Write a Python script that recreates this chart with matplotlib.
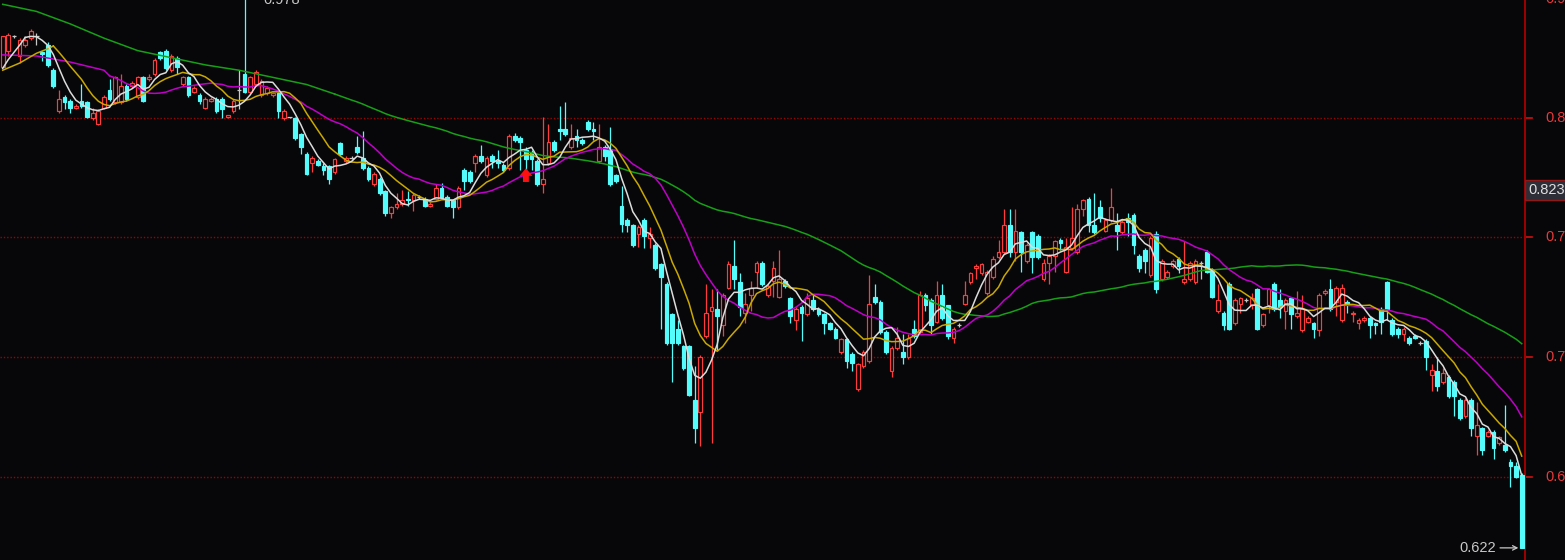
import numpy as np
import pandas as pd
import matplotlib
matplotlib.use("Agg")
import matplotlib.pyplot as plt
from matplotlib.patches import FancyArrow
from matplotlib.transforms import blended_transform_factory

# daily candles (price in yuan), oldest first
opens = [
    0.892, 0.901, 0.909, 0.898, 0.904, 0.908, 0.909, 0.900, 0.904, 0.890,
    0.867, 0.875, 0.873, 0.869, 0.873, 0.872, 0.863, 0.860, 0.869, 0.879,
    0.872, 0.872, 0.881, 0.881, 0.875, 0.886, 0.885, 0.888, 0.900, 0.901,
    0.890, 0.897, 0.882, 0.886, 0.878, 0.876, 0.869, 0.873, 0.874, 0.874,
    0.864, 0.867, 0.879, 0.888, 0.878, 0.882, 0.876, 0.877, 0.876, 0.877,
    0.863, 0.864, 0.863, 0.854, 0.843, 0.838, 0.839, 0.836, 0.836, 0.833,
    0.849, 0.839, 0.841, 0.847, 0.841, 0.835, 0.826, 0.829, 0.822, 0.810,
    0.813, 0.815, 0.818, 0.817, 0.819, 0.818, 0.814, 0.818, 0.824, 0.819,
    0.817, 0.813, 0.834, 0.833, 0.838, 0.842, 0.831, 0.842, 0.839, 0.837,
    0.835, 0.853, 0.852, 0.845, 0.844, 0.839, 0.826, 0.838, 0.850, 0.857,
    0.857, 0.847, 0.853, 0.851, 0.861, 0.857, 0.839, 0.847, 0.846, 0.831,
    0.814, 0.806, 0.803, 0.798, 0.806, 0.796, 0.792, 0.781, 0.770, 0.753,
    0.745, 0.735, 0.735, 0.705, 0.698, 0.741, 0.755, 0.756, 0.747, 0.768,
    0.780, 0.771, 0.754, 0.764, 0.777, 0.782, 0.764, 0.772, 0.763, 0.772,
    0.762, 0.750, 0.757, 0.753, 0.761, 0.756, 0.753, 0.748, 0.745, 0.732,
    0.739, 0.731, 0.711, 0.724, 0.727, 0.763, 0.760, 0.743, 0.721, 0.734,
    0.732, 0.729, 0.745, 0.743, 0.764, 0.761, 0.749, 0.764, 0.758, 0.740,
    0.747, 0.759, 0.771, 0.779, 0.776, 0.765, 0.774, 0.785, 0.788, 0.803,
    0.788, 0.799, 0.783, 0.799, 0.797, 0.773, 0.782, 0.786, 0.795, 0.777,
    0.790, 0.788, 0.812, 0.818, 0.803, 0.813, 0.800, 0.806, 0.803, 0.799,
    0.807, 0.809, 0.786, 0.789, 0.775, 0.798, 0.773, 0.774, 0.780, 0.784,
    0.771, 0.773, 0.771, 0.782, 0.788, 0.778, 0.755, 0.754, 0.770, 0.748,
    0.759, 0.761, 0.758, 0.767, 0.747, 0.758, 0.770, 0.761, 0.755, 0.762,
    0.752, 0.744, 0.749, 0.748, 0.744, 0.765, 0.767, 0.760, 0.750, 0.760,
    0.753, 0.748, 0.750, 0.751, 0.748, 0.756, 0.771, 0.750, 0.745, 0.742,
    0.740, 0.741, 0.737, 0.738, 0.719, 0.721, 0.715, 0.718, 0.715, 0.705,
    0.696, 0.705, 0.685, 0.689, 0.685, 0.687, 0.681, 0.680, 0.670, 0.668,
    0.663,
]
highs = [
    0.909, 0.911, 0.910, 0.908, 0.908, 0.913, 0.911, 0.901, 0.906, 0.891,
    0.879, 0.876, 0.874, 0.871, 0.882, 0.873, 0.869, 0.868, 0.876, 0.885,
    0.887, 0.888, 0.882, 0.884, 0.887, 0.887, 0.888, 0.897, 0.901, 0.902,
    0.899, 0.898, 0.887, 0.887, 0.881, 0.877, 0.875, 0.875, 0.875, 0.875,
    0.865, 0.874, 0.890, 0.978, 0.887, 0.890, 0.885, 0.881, 0.878, 0.878,
    0.868, 0.864, 0.864, 0.855, 0.844, 0.842, 0.840, 0.838, 0.837, 0.841,
    0.850, 0.842, 0.842, 0.853, 0.856, 0.836, 0.833, 0.830, 0.823, 0.814,
    0.821, 0.823, 0.822, 0.821, 0.820, 0.819, 0.816, 0.826, 0.827, 0.820,
    0.818, 0.825, 0.835, 0.834, 0.843, 0.848, 0.842, 0.843, 0.845, 0.838,
    0.854, 0.855, 0.853, 0.847, 0.845, 0.840, 0.864, 0.860, 0.851, 0.870,
    0.872, 0.860, 0.857, 0.852, 0.862, 0.861, 0.860, 0.848, 0.858, 0.832,
    0.825, 0.807, 0.804, 0.803, 0.807, 0.802, 0.793, 0.782, 0.771, 0.754,
    0.750, 0.736, 0.736, 0.724, 0.730, 0.770, 0.767, 0.767, 0.765, 0.783,
    0.795, 0.776, 0.765, 0.772, 0.783, 0.783, 0.770, 0.783, 0.789, 0.773,
    0.763, 0.757, 0.758, 0.765, 0.764, 0.757, 0.754, 0.749, 0.746, 0.740,
    0.740, 0.732, 0.726, 0.733, 0.775, 0.770, 0.761, 0.744, 0.735, 0.746,
    0.742, 0.742, 0.750, 0.766, 0.765, 0.762, 0.772, 0.770, 0.758, 0.746,
    0.748, 0.772, 0.777, 0.781, 0.782, 0.778, 0.786, 0.795, 0.812, 0.812,
    0.812, 0.800, 0.793, 0.800, 0.798, 0.784, 0.787, 0.795, 0.796, 0.796,
    0.813, 0.815, 0.818, 0.819, 0.821, 0.817, 0.807, 0.824, 0.810, 0.806,
    0.810, 0.810, 0.787, 0.790, 0.797, 0.800, 0.784, 0.778, 0.784, 0.785,
    0.794, 0.783, 0.784, 0.783, 0.789, 0.779, 0.770, 0.755, 0.771, 0.762,
    0.763, 0.762, 0.765, 0.768, 0.754, 0.768, 0.771, 0.767, 0.762, 0.763,
    0.766, 0.764, 0.752, 0.749, 0.765, 0.767, 0.773, 0.769, 0.770, 0.761,
    0.755, 0.751, 0.752, 0.752, 0.749, 0.757, 0.772, 0.751, 0.746, 0.746,
    0.741, 0.742, 0.738, 0.739, 0.725, 0.729, 0.723, 0.719, 0.716, 0.706,
    0.706, 0.706, 0.704, 0.690, 0.688, 0.688, 0.685, 0.702, 0.672, 0.670,
    0.664,
]
lows = [
    0.892, 0.898, 0.908, 0.894, 0.903, 0.907, 0.904, 0.895, 0.892, 0.880,
    0.866, 0.868, 0.866, 0.868, 0.869, 0.863, 0.862, 0.859, 0.868, 0.873,
    0.871, 0.871, 0.873, 0.880, 0.874, 0.872, 0.884, 0.887, 0.896, 0.890,
    0.889, 0.888, 0.881, 0.875, 0.877, 0.871, 0.868, 0.872, 0.866, 0.863,
    0.863, 0.866, 0.868, 0.877, 0.877, 0.881, 0.875, 0.876, 0.875, 0.863,
    0.862, 0.863, 0.851, 0.843, 0.831, 0.833, 0.836, 0.831, 0.826, 0.832,
    0.842, 0.838, 0.840, 0.843, 0.834, 0.828, 0.825, 0.820, 0.808, 0.807,
    0.812, 0.814, 0.814, 0.811, 0.818, 0.813, 0.813, 0.817, 0.818, 0.813,
    0.807, 0.812, 0.823, 0.827, 0.833, 0.838, 0.830, 0.835, 0.835, 0.833,
    0.834, 0.850, 0.834, 0.834, 0.834, 0.825, 0.821, 0.837, 0.844, 0.851,
    0.853, 0.846, 0.847, 0.848, 0.856, 0.851, 0.838, 0.839, 0.825, 0.827,
    0.799, 0.799, 0.791, 0.791, 0.790, 0.790, 0.778, 0.745, 0.736, 0.715,
    0.736, 0.722, 0.707, 0.681, 0.679, 0.740, 0.681, 0.733, 0.741, 0.767,
    0.767, 0.752, 0.748, 0.755, 0.768, 0.769, 0.763, 0.763, 0.762, 0.768,
    0.748, 0.744, 0.738, 0.752, 0.755, 0.752, 0.742, 0.744, 0.739, 0.731,
    0.723, 0.721, 0.710, 0.723, 0.726, 0.759, 0.742, 0.731, 0.718, 0.733,
    0.725, 0.728, 0.740, 0.742, 0.755, 0.742, 0.748, 0.750, 0.739, 0.737,
    0.746, 0.758, 0.770, 0.773, 0.775, 0.764, 0.773, 0.784, 0.787, 0.785,
    0.783, 0.777, 0.782, 0.776, 0.784, 0.772, 0.770, 0.777, 0.789, 0.776,
    0.789, 0.787, 0.808, 0.799, 0.798, 0.805, 0.799, 0.805, 0.789, 0.798,
    0.797, 0.787, 0.777, 0.776, 0.774, 0.765, 0.772, 0.773, 0.779, 0.776,
    0.770, 0.772, 0.770, 0.773, 0.776, 0.762, 0.754, 0.744, 0.744, 0.747,
    0.754, 0.760, 0.756, 0.744, 0.746, 0.754, 0.755, 0.751, 0.745, 0.745,
    0.751, 0.743, 0.748, 0.740, 0.741, 0.764, 0.755, 0.752, 0.749, 0.754,
    0.749, 0.745, 0.749, 0.740, 0.742, 0.742, 0.750, 0.741, 0.740, 0.738,
    0.736, 0.739, 0.736, 0.722, 0.710, 0.710, 0.714, 0.706, 0.696, 0.694,
    0.695, 0.685, 0.674, 0.674, 0.684, 0.672, 0.680, 0.676, 0.656, 0.661,
    0.622,
]
closes = [
    0.909, 0.910, 0.909, 0.907, 0.907, 0.912, 0.909, 0.899, 0.893, 0.881,
    0.874, 0.872, 0.869, 0.870, 0.870, 0.864, 0.866, 0.867, 0.875, 0.874,
    0.886, 0.881, 0.874, 0.883, 0.886, 0.873, 0.886, 0.896, 0.897, 0.891,
    0.898, 0.892, 0.886, 0.876, 0.880, 0.873, 0.874, 0.874, 0.867, 0.868,
    0.865, 0.873, 0.879, 0.878, 0.886, 0.889, 0.884, 0.880, 0.877, 0.867,
    0.867, 0.864, 0.852, 0.847, 0.832, 0.841, 0.837, 0.834, 0.829, 0.840,
    0.843, 0.841, 0.841, 0.844, 0.835, 0.829, 0.832, 0.821, 0.810, 0.813,
    0.815, 0.817, 0.817, 0.820, 0.819, 0.814, 0.815, 0.824, 0.819, 0.814,
    0.813, 0.824, 0.828, 0.828, 0.842, 0.839, 0.841, 0.839, 0.838, 0.834,
    0.853, 0.851, 0.850, 0.840, 0.840, 0.826, 0.829, 0.850, 0.845, 0.856,
    0.854, 0.852, 0.851, 0.849, 0.857, 0.856, 0.847, 0.842, 0.826, 0.828,
    0.804, 0.803, 0.792, 0.802, 0.797, 0.798, 0.779, 0.774, 0.737, 0.737,
    0.737, 0.723, 0.708, 0.689, 0.729, 0.754, 0.757, 0.752, 0.764, 0.781,
    0.773, 0.757, 0.759, 0.768, 0.782, 0.770, 0.769, 0.779, 0.773, 0.769,
    0.752, 0.756, 0.754, 0.762, 0.756, 0.753, 0.748, 0.745, 0.740, 0.739,
    0.727, 0.726, 0.725, 0.732, 0.759, 0.760, 0.743, 0.732, 0.734, 0.740,
    0.729, 0.740, 0.741, 0.764, 0.758, 0.747, 0.764, 0.751, 0.741, 0.745,
    0.747, 0.764, 0.776, 0.780, 0.781, 0.777, 0.784, 0.788, 0.803, 0.788,
    0.800, 0.788, 0.792, 0.785, 0.785, 0.782, 0.786, 0.794, 0.793, 0.791,
    0.796, 0.812, 0.817, 0.803, 0.799, 0.807, 0.806, 0.813, 0.800, 0.805,
    0.805, 0.792, 0.779, 0.783, 0.796, 0.767, 0.783, 0.777, 0.783, 0.780,
    0.773, 0.782, 0.783, 0.782, 0.777, 0.763, 0.761, 0.747, 0.745, 0.761,
    0.762, 0.761, 0.762, 0.745, 0.753, 0.767, 0.756, 0.757, 0.761, 0.753,
    0.754, 0.756, 0.751, 0.745, 0.764, 0.766, 0.756, 0.768, 0.768, 0.758,
    0.754, 0.750, 0.751, 0.747, 0.747, 0.749, 0.756, 0.742, 0.742, 0.745,
    0.737, 0.740, 0.737, 0.729, 0.722, 0.713, 0.720, 0.707, 0.707, 0.695,
    0.705, 0.689, 0.691, 0.677, 0.687, 0.678, 0.684, 0.677, 0.668, 0.662,
    0.622,
]

# moving-average values at the left edge, where the earlier history is off-screen
ma5_head_idx = [0, 1, 2, 3]
ma5_head = [0.891, 0.896, 0.900, 0.904]
ma10_head_idx = [0, 3, 6, 8]
ma10_head = [0.890, 0.894, 0.8995, 0.902]
ma20_head_idx = [0, 6, 12, 18]
ma20_head = [0.8986, 0.898, 0.8946, 0.890]
ma60_head_idx = [0, 6, 12, 18, 24, 30, 36, 42, 48, 54]
ma60_head = [0.927, 0.923, 0.916, 0.908, 0.901, 0.897, 0.893, 0.890, 0.886, 0.882]

grid_levels = [0.6618, 0.7291, 0.7964, 0.8632, 0.9300]
cursor_price = 0.823
signal_idx = 93

BG = '#07070a'
UP = '#ff3c3c'
DOWN = '#54fcfc'
FLAT = '#c8c8c8'
AXIS_RED = '#a00000'
LABEL_RED = '#e8383a'
TEXT_GRAY = '#c8c8c8'


def main():
    plt.rcParams['font.family'] = ['Liberation Sans', 'DejaVu Sans']
    o = np.array(opens)
    c = np.array(closes)
    h = np.maximum(np.array(highs), np.maximum(o, c))
    l = np.minimum(np.array(lows), np.minimum(o, c))
    n = len(c)
    x = np.arange(n)

    fig = plt.figure(figsize=(15.65, 5.6), dpi=100, facecolor=BG)
    ax = fig.add_axes([0, 0, 1525 / 1565, 1])
    ax.set_facecolor(BG)
    ax.set_xlim(-0.48, 270.58)
    ax.set_ylim(0.6152, 0.9294)
    for side in ('top', 'left', 'bottom'):
        ax.spines[side].set_visible(False)
    ax.spines['right'].set_color(AXIS_RED)
    ax.spines['right'].set_linewidth(1.4)
    ax.set_xticks([])
    ax.set_yticks([])

    tr = blended_transform_factory(ax.transAxes, ax.transData)
    for v in grid_levels:
        ax.axhline(v, color=AXIS_RED, lw=1.0, ls=(0, (1, 1.4)), zorder=1)
        ax.plot([1, 1 + 7 / 1525], [v, v], transform=tr, color='#d01010',
                lw=1.2, clip_on=False)
        # the software prints full prices, the window edge cuts them short
        ax.text(1 + 20 / 1525, v, f'{v:.3f}', transform=tr, color=LABEL_RED,
                fontsize=10.5, va='center', ha='left', clip_on=False)

    # candles
    up = c > o
    dn = c < o
    fl = c == o
    wick_cols = np.where(up, UP, np.where(dn, DOWN, FLAT))
    ax.vlines(x, l, h, colors=wick_cols, lw=0.9, zorder=2)
    ax.bar(x[up], (c - o)[up], bottom=o[up], width=0.66, facecolor=BG,
           edgecolor=UP, linewidth=0.85, zorder=3)
    ax.bar(x[dn], (o - c)[dn], bottom=c[dn], width=0.66, facecolor=DOWN,
           edgecolor=DOWN, linewidth=0.85, zorder=3)
    ax.hlines(c[fl], x[fl] - 0.38, x[fl] + 0.38, colors=FLAT, lw=0.9, zorder=3)

    # moving averages
    s = pd.Series(c)
    mas = [
        (60, ma60_head_idx, ma60_head, '#16a016'),
        (20, ma20_head_idx, ma20_head, '#c000c8'),
        (10, ma10_head_idx, ma10_head, '#c9a800'),
        (5, ma5_head_idx, ma5_head, '#dcdcdc'),
    ]
    for z, (w, hidx, hval, col) in enumerate(mas):
        ma = s.rolling(w).mean().to_numpy()
        ax.plot(x, ma, color=col, lw=1.1, zorder=4 + z * 0.1)
        ax.plot(hidx + [w - 1], hval + [ma[w - 1]], color=col, lw=1.1,
                zorder=4 + z * 0.1)

    # buy signal arrow under the candle
    tip = l[signal_idx] + 0.001
    length = 0.0077
    ax.add_patch(FancyArrow(signal_idx, tip - length, 0, length, width=1.05,
                            head_width=2.3, head_length=0.0043,
                            length_includes_head=True, color='#ff1010',
                            lw=0, zorder=5))

    # highest / lowest price markers
    hi = int(np.argmax(h))
    tr2 = blended_transform_factory(ax.transData, ax.transAxes)
    ax.text(hi + 3.3, 1 - 4.5 / 560, f'{h[hi]:.3f}', transform=tr2,
            va='baseline', ha='left', color=TEXT_GRAY, fontsize=10.5,
            clip_on=False)
    lo = int(np.argmin(l))
    ax.annotate(f'{l[lo]:.3f}', xy=(lo - 0.6, l[lo]), xytext=(lo - 4.6, l[lo]),
                ha='right', va='center', color=TEXT_GRAY, fontsize=10.5,
                arrowprops=dict(arrowstyle='->', color=TEXT_GRAY, lw=0.9,
                                shrinkA=1, shrinkB=0, mutation_scale=8),
                zorder=6)

    # price readout box on the axis
    ax.text(1 + 3 / 1525, cursor_price, f'{cursor_price:.3f}', transform=tr,
            color='#e0e0e0', fontsize=10.5, va='center', ha='left',
            bbox=dict(boxstyle='square,pad=0.2', fc='#2e2e38', ec='#901818',
                      lw=1), clip_on=False, zorder=6)

    fig.savefig('out.png', dpi=100, facecolor=BG)


if __name__ == '__main__':
    main()
